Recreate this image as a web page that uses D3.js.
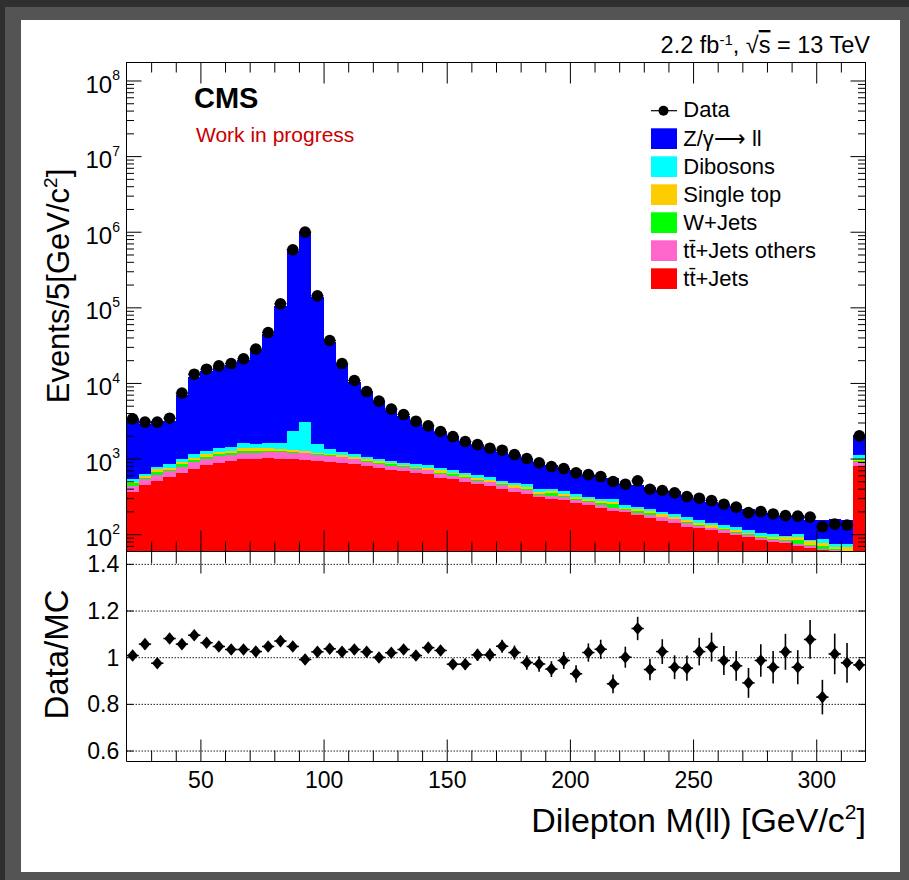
<!DOCTYPE html>
<html>
<head>
<meta charset="utf-8">
<script src="https://cdn.jsdelivr.net/npm/d3@7"></script>
<style>
  body { margin: 0; background: #2f2f2f; }
  svg { display: block; font-family: "Liberation Sans", Arial, Helvetica, sans-serif; }
</style>
</head>
<body>
<div id="chart"></div>
<script>
// bins of 5 GeV from 20 to 320 (last one holds the overflow)
const binLow = d3.range(20, 320, 5);

const dataCounts = [3350,3030,3030,3420,7330,13060,15200,16800,18060,20840,
  28000,46400,111200,577000,988000,141900,36400,18060,10770,7690,
  5750,4520,3820,3120,2710,2280,1950,1680,1530,1370,
  1290,1130,1000,877,784,738,647,614,578,497,
  458,507,393,378,352,314,299,278,249,228,
  193,199,185,176,173,168,126,136,132,1995];

const ttJets = [366,449,511,578,647,738,817,877,942,990,
  1000,1012,1000,1000,970,942,913,885,843,793,
  747,716,687,641,622,561,533,497,458,435,
  397,366,344,308,296,285,262,245,223,203,
  195,178,163,151,142,126,120,112,105,99,
  91,84,80,76,69,65,61,55,50,807];

const ttOthers = [73,85,98,109,137,165,183,197,188,188,
  200,215,227,200,208,188,171,155,139,110,
  96,91,93,94,75,67,58,54,49,49,
  46,36,42,24,22,26,23,19,21,22,
  15,15,15,17,16,14,9,8,9,6,
  7,6,5,6,6,5,3,7,8,106];

const wJets = [34,17,64,15,67,58,62,69,58,73,
  64,50,37,27,10,13,23,22,18,22,
  42,33,13,12,13,25,31,16,21,8,
  13,12,11,8,30,11,8,10,13,27,
  2,12,12,2,3,6,2,2,2,3,
  2,1,2,2,9,2,5,1,2,20];

const singleTop = [19,40,51,58,62,70,81,84,76,110,
  108,120,80,76,76,57,57,68,62,57,
  45,29,24,37,37,49,31,42,28,31,
  17,29,22,25,27,19,21,22,17,18,
  13,9,13,15,10,9,9,9,6,6,
  5,4,6,7,7,10,8,4,7,53];

const dibosons = [52,43,60,91,87,112,121,169,178,236,
  177,200,253,1027,1766,363,186,90,81,80,
  60,56,46,59,63,45,49,44,47,44,
  34,30,39,30,22,29,24,18,19,20,
  19,16,15,12,14,13,15,11,9,10,
  9,10,7,5,11,2,10,7,7,134];

const zll = [2783,2235,2327,2316,5941,10795,13049,14665,16041,18577,
  25795,42762,102425,549295,994950,137147,33785,16434,9283,6455,
  4766,3511,2835,2255,1793,1469,1308,1079,912,789,
  725,635,566,508,429,378,358,288,266,271,
  214,221,197,172,183,161,137,125,122,113,
  103,97,93,76,79,72,65,84,81,943];

const ratio = [1.007,1.056,0.974,1.080,1.056,1.094,1.062,1.046,1.033,1.033,
  1.024,1.046,1.069,1.046,0.990,1.023,1.036,1.023,1.033,1.023,
  0.999,1.019,1.033,1.007,1.041,1.029,0.970,0.970,1.010,1.010,
  1.047,1.020,0.977,0.971,0.949,0.986,0.929,1.020,1.034,0.886,
  1.000,1.123,0.947,1.024,0.957,0.953,1.024,1.043,0.986,0.963,
  0.890,0.986,0.957,1.023,0.957,1.076,0.829,1.014,0.976,0.967];

const ratioErr = [0.018,0.019,0.018,0.018,0.012,0.010,0.009,0.008,0.008,0.007,
  0.006,0.005,0.003,0.002,0.001,0.003,0.005,0.008,0.010,0.012,
  0.013,0.015,0.017,0.018,0.020,0.021,0.022,0.024,0.026,0.027,
  0.028,0.030,0.031,0.033,0.034,0.036,0.037,0.039,0.041,0.040,
  0.045,0.050,0.046,0.053,0.051,0.054,0.059,0.062,0.062,0.064,
  0.064,0.070,0.070,0.077,0.073,0.083,0.074,0.087,0.085,0.022];

const legendLabels = ["Z/γ⟶ ll", "Dibosons", "Single top", "W+Jets", "tt\u0304+Jets others", "tt\u0304+Jets"];
const stackKeys = ["tt", "tto", "wj", "st", "db", "z"];
const stackColors = {tt: "#ff0000", tto: "#ff66cc", wj: "#00ff00", st: "#ffcc00", db: "#00ffff", z: "#0000ff"};
const legendKeys = ["z", "db", "st", "wj", "tto", "tt"];

const xMajor = [50, 100, 150, 200, 250, 300];
const xMinor = d3.range(30, 320, 10).filter(v => v % 50 !== 0);
const yMajor = [1e2, 1e3, 1e4, 1e5, 1e6, 1e7, 1e8];
const rTicks = [0.6, 0.8, 1.0, 1.2, 1.4];

const W = 909, H = 880;
const svg = d3.select("#chart").append("svg").attr("width", W).attr("height", H);

// viewer frame around the canvas
svg.append("rect").attr("width", W).attr("height", H).attr("fill", "#2f2f2f");
svg.append("rect").attr("x", 5).attr("y", 7).attr("width", W - 5).attr("height", H - 7).attr("fill", "#545454");
svg.append("rect").attr("x", 21).attr("y", 20).attr("width", 879).attr("height", 852).attr("fill", "#fff");

// pad edges
const fL = 126.5, fR = 865.5, fT = 62.5, fM = 551.5, fB = 761.5;

const x = d3.scaleLinear().domain([20, 320]).range([fL, fR]);
const y = d3.scaleLog().domain([59, 1.73e8]).range([fM, fT]);
const yR = d3.scaleLinear().domain([0.553, 1.453]).range([fB, fM]);

const yMinor = [];
for (let k = 1; k <= 8; k++) for (let m = 2; m <= 9; m++) {
  const v = m * Math.pow(10, k);
  if (v >= 59 && v <= 1.73e8) yMinor.push(v);
}

// ---------- stacked MC ----------
const rows = binLow.map((lo, i) => ({
  lo, tt: ttJets[i], tto: ttOthers[i], wj: wJets[i], st: singleTop[i], db: dibosons[i], z: zll[i]
}));
const stacked = d3.stack().keys(stackKeys)(rows);

svg.append("clipPath").attr("id", "upclip")
  .append("rect").attr("x", fL).attr("y", fT).attr("width", fR - fL).attr("height", fM - fT);

svg.append("g").attr("clip-path", "url(#upclip)")
  .selectAll("g").data(stacked).join("g")
    .attr("fill", s => stackColors[s.key])
  .selectAll("rect").data(s => s).join("rect")
    .attr("shape-rendering", "crispEdges")
    .attr("x", d => x(d.data.lo))
    .attr("width", d => x(d.data.lo + 5) - x(d.data.lo))
    .attr("y", d => y(d[1]))
    .attr("height", d => Math.max(0, y(Math.max(d[0], 1)) - y(d[1])));

// data points
const dataG = svg.append("g").attr("clip-path", "url(#upclip)");
dataG.selectAll("line").data(binLow).join("line")
  .attr("x1", d => x(d)).attr("x2", d => x(d + 5))
  .attr("y1", (d, i) => y(dataCounts[i])).attr("y2", (d, i) => y(dataCounts[i]))
  .attr("stroke", "#000").attr("stroke-width", 1);
dataG.selectAll("circle").data(binLow).join("circle")
  .attr("cx", d => x(d + 2.5))
  .attr("cy", (d, i) => y(dataCounts[i]))
  .attr("r", 5.8)
  .attr("fill", "#000");

// ---------- axes helpers ----------
function ticks(axis, tx, ty) {
  const g = svg.append("g").attr("transform", `translate(${tx},${ty})`).call(axis);
  g.select(".domain").remove();
  g.selectAll(".tick line").attr("stroke", "#000");
  g.attr("font-family", null).attr("font-size", null);
  return g;
}

// upper pad ticks
ticks(d3.axisBottom(x).tickValues(xMinor).tickSize(-10).tickFormat(""), 0, fM);
ticks(d3.axisBottom(x).tickValues(xMajor).tickSize(-21).tickFormat(""), 0, fM);
ticks(d3.axisTop(x).tickValues(xMinor).tickSize(-10).tickFormat(""), 0, fT);
ticks(d3.axisTop(x).tickValues(xMajor).tickSize(-21).tickFormat(""), 0, fT);
ticks(d3.axisLeft(y).tickValues(yMinor).tickSize(-7.5).tickFormat(""), fL, 0);
ticks(d3.axisLeft(y).tickValues(yMajor).tickSize(-15).tickFormat(""), fL, 0);
ticks(d3.axisRight(y).tickValues(yMinor).tickSize(-7.5).tickFormat(""), fR, 0);
ticks(d3.axisRight(y).tickValues(yMajor).tickSize(-15).tickFormat(""), fR, 0);

// log labels 10^n
const yLab = ticks(d3.axisLeft(y).tickValues(yMajor).tickSize(0).tickPadding(6.5).tickFormat(""), fL, 0);
yLab.selectAll(".tick text").each(function(d) {
  const t = d3.select(this).attr("dy", null).attr("y", 11.6)
    .style("font-size", "24px").attr("fill", "#000");
  t.append("tspan").text("10");
  t.append("tspan").attr("dy", -12.3).style("font-size", "14px").text(Math.round(Math.log10(d)));
});

// frame of upper pad
svg.append("rect").attr("x", fL).attr("y", fT).attr("width", fR - fL).attr("height", fM - fT)
  .attr("fill", "none").attr("stroke", "#000").attr("stroke-width", 1);

// ---------- ratio pad ----------
const grid = ticks(d3.axisLeft(yR).tickValues(rTicks).tickSize(-(fR - fL)).tickFormat(""), fL, 0);
grid.selectAll(".tick line").attr("stroke-dasharray", "1.5,1.5").attr("stroke", "#222");

ticks(d3.axisTop(x).tickValues(xMinor).tickSize(-12).tickFormat(""), 0, fM);
ticks(d3.axisTop(x).tickValues(xMajor).tickSize(-22).tickFormat(""), 0, fM);
ticks(d3.axisBottom(x).tickValues(xMinor).tickSize(-11).tickFormat(""), 0, fB);
ticks(d3.axisBottom(x).tickValues(xMajor).tickSize(-22).tickFormat(""), 0, fB);
ticks(d3.axisLeft(yR).tickValues(rTicks).tickSize(-7).tickFormat(""), fL, 0);
ticks(d3.axisRight(yR).tickValues(rTicks).tickSize(-7).tickFormat(""), fR, 0);

const rLab = ticks(d3.axisLeft(yR).tickValues(rTicks).tickSize(0).tickPadding(7.2)
  .tickFormat(d => d === 1 ? "1" : d.toFixed(1)), fL, 0);
rLab.selectAll("text").attr("dy", "0.35em").style("font-size", "23px").attr("fill", "#000");

const xLab = ticks(d3.axisBottom(x).tickValues(xMajor).tickSize(0).tickFormat(d3.format("d")), 0, fB);
xLab.selectAll("text").attr("y", 26.8).attr("dy", null).style("font-size", "23px").attr("fill", "#000");

svg.append("path")
  .attr("d", `M${fL},${fM}V${fB}H${fR}V${fM}`)
  .attr("fill", "none").attr("stroke", "#000");

// ratio points
const rG = svg.append("g");
rG.selectAll("line.h").data(binLow).join("line").attr("class", "h")
  .attr("x1", d => x(d)).attr("x2", d => x(d + 5))
  .attr("y1", (d, i) => yR(ratio[i])).attr("y2", (d, i) => yR(ratio[i]))
  .attr("stroke", "#000").attr("stroke-width", 1.5);
rG.selectAll("line.v").data(binLow).join("line").attr("class", "v")
  .attr("x1", d => x(d + 2.5)).attr("x2", d => x(d + 2.5))
  .attr("y1", (d, i) => yR(ratio[i] - ratioErr[i])).attr("y2", (d, i) => yR(ratio[i] + ratioErr[i]))
  .attr("stroke", "#000").attr("stroke-width", 1.6);
rG.selectAll("path").data(binLow).join("path")
  .attr("transform", (d, i) => `translate(${x(d + 2.5)},${yR(ratio[i])})`)
  .attr("d", "M0,-6.3L5.3,0L0,6.3L-5.3,0Z")
  .attr("fill", "#000");

// ---------- texts ----------
svg.append("text").attr("x", 194).attr("y", 108.3)
  .style("font-size", "29px").style("font-weight", "bold").text("CMS");
svg.append("text").attr("x", 196).attr("y", 141.7)
  .style("font-size", "21px").attr("fill", "#c80000").text("Work in progress");

const lumi = svg.append("text").attr("x", 870).attr("y", 53).attr("text-anchor", "end")
  .style("font-size", "23.5px");
lumi.append("tspan").text("2.2 fb");
lumi.append("tspan").attr("dy", -8.5).style("font-size", "15px").text("-1");
lumi.append("tspan").attr("dy", 8.5).text(", √");
lumi.append("tspan").style("text-decoration", "overline").text("s");
lumi.append("tspan").text(" = 13 TeV");

// legend
const legX = 651, legTextX = 683.3;
svg.append("line").attr("x1", legX).attr("x2", legX + 26).attr("y1", 110.7).attr("y2", 110.7)
  .attr("stroke", "#000").attr("stroke-width", 1.2);
svg.append("circle").attr("cx", legX + 12.5).attr("cy", 110.7).attr("r", 5).attr("fill", "#000");
svg.append("text").attr("x", legTextX).attr("y", 117).style("font-size", "22px").text("Data");

const leg = svg.append("g").selectAll("g").data(legendKeys).join("g")
  .attr("transform", (d, i) => `translate(0,${128.3 + i * 28})`);
leg.append("rect").attr("x", legX).attr("y", 0).attr("width", 26).attr("height", 20.7)
  .attr("fill", d => stackColors[d]);
leg.append("text").attr("x", legTextX).attr("y", 17.3).style("font-size", "22px")
  .text((d, i) => legendLabels[i]);

// axis titles
const yt = svg.append("text").attr("transform", "translate(69,286) rotate(-90)")
  .attr("text-anchor", "middle").style("font-size", "31px");
yt.append("tspan").text("Events/5[GeV/c");
yt.append("tspan").attr("dy", -12).style("font-size", "19px").text("2");
yt.append("tspan").attr("dy", 12).text("]");

svg.append("text").attr("transform", "translate(68,654.5) rotate(-90)")
  .attr("text-anchor", "middle").style("font-size", "33px").text("Data/MC");

const xt = svg.append("text").attr("x", 866).attr("y", 831.7).attr("text-anchor", "end")
  .style("font-size", "34px");
xt.append("tspan").text("Dilepton M(ll) [GeV/c");
xt.append("tspan").attr("dy", -13).style("font-size", "21px").text("2");
xt.append("tspan").attr("dy", 13).text("]");
</script>
</body>
</html>
